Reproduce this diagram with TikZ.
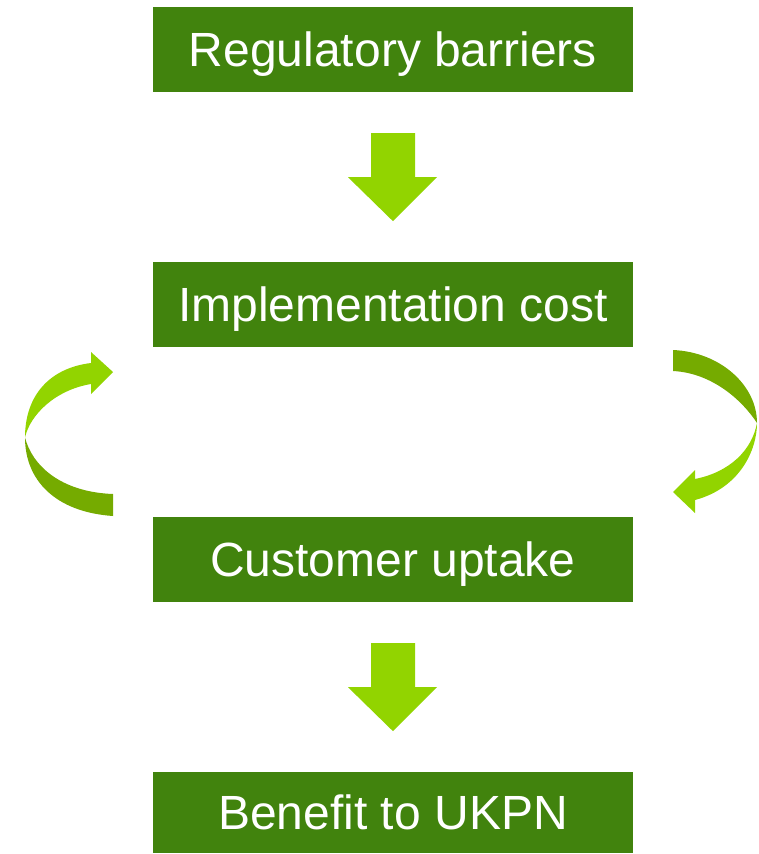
\documentclass[tikz,border=0pt]{standalone}
\usepackage{fontspec}
\setmainfont{Liberation Sans}
\usetikzlibrary{calc}
\definecolor{boxgreen}{RGB}{65,131,13}
\definecolor{lightgreen}{RGB}{146,212,0}
\definecolor{darkgreen}{RGB}{117,171,0}
\begin{document}
\begin{tikzpicture}[x=1pt,y=-1pt,
  stage/.style={fill=boxgreen, text=white, minimum width=480pt, minimum height=85pt,
    inner sep=0pt, text height=34pt, text depth=0pt,
    font=\fontsize{48}{56}\selectfont},
  front/.style={fill=lightgreen, draw=none},
  back/.style={fill=darkgreen, draw=none}]
\useasboundingbox (0,0) rectangle (758,854);

% stages
\node[stage] (reg)  at (393,49.5)  {Regulatory barriers};
\node[stage] (impl) at (393,304.5) {Implementation cost};
\node[stage] (cust) at (393,559.5) {Customer uptake};
\node[stage, minimum height=81pt] (ben) at (393,812.5) {Benefit to UKPN};

% block arrows between stages
\foreach \a/\b in {reg/impl, cust/ben}{
  \coordinate (top) at ($(\a.south)+(0,41)$);
  \fill[front] ($(top)+(-22,0)$) -- ($(top)+(22,0)$) -- ($(top)+(22,44)$)
    -- ($(top)+(44,44)$) -- ($(top)+(0,88)$) -- ($(top)+(-45,44)$)
    -- ($(top)+(-22,44)$) -- cycle;
}

% left curved ribbon arrow: back (lower) half, then front (upper) half with head
\coordinate (lt) at (25,437.5);
\fill[back] (lt) .. controls (25,480) and (55,512) .. (113,516)
  -- (113,494) .. controls (60,492) and (32,465) .. (lt) -- cycle;
\fill[front] (lt) .. controls (25,395) and (50,368) .. (91,363)
  -- (91,352) -- (113,372) -- (91,394) -- (91,384)
  .. controls (55,390) and (30,415) .. (lt) -- cycle;

% right curved ribbon arrow: back (upper) half, then front (lower) half with head
\coordinate (rt) at (757,423);
\fill[back] (673,350) .. controls (720,352) and (757,385) .. (rt)
  .. controls (742,400) and (712,373) .. (673,371) -- cycle;
\fill[front] (rt) .. controls (757,450) and (740,488) .. (695,500)
  -- (695,513) -- (673,492) -- (695,470) -- (695,479)
  .. controls (730,472) and (752,450) .. (rt) -- cycle;
\end{tikzpicture}
\end{document}
